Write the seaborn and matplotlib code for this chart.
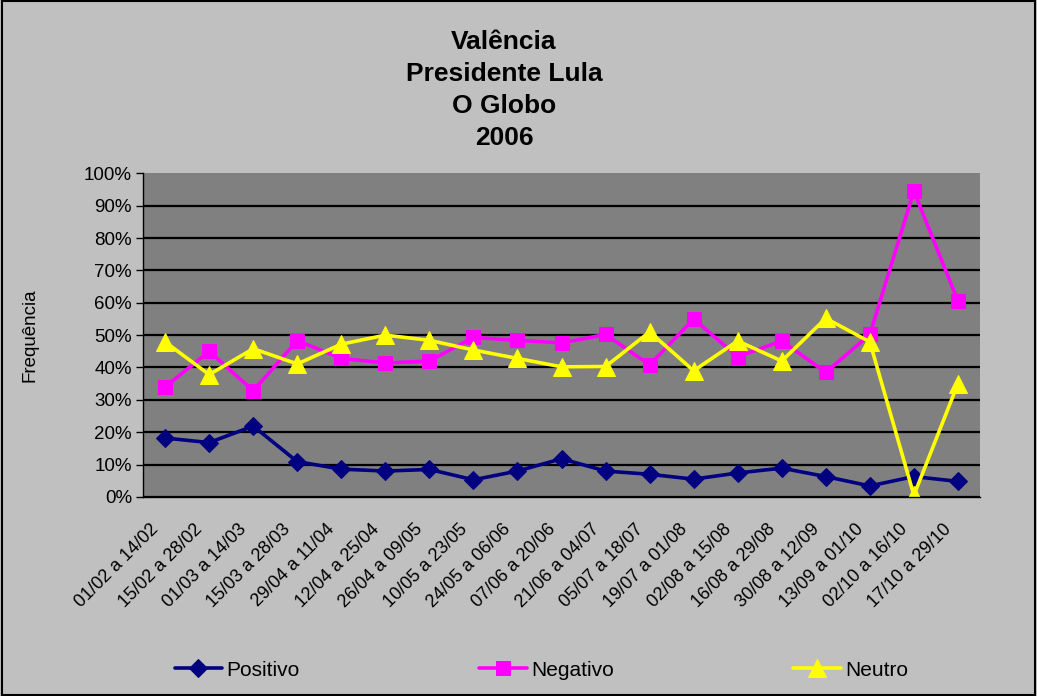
import pandas as pd
import numpy as np
import seaborn as sns
import matplotlib.pyplot as plt
from matplotlib.ticker import PercentFormatter, FixedLocator
from matplotlib.transforms import ScaledTranslation

# Data (percent)
periodos = ['01/02 a 14/02', '15/02 a 28/02', '01/03 a 14/03', '15/03 a 28/03',
            '29/04 a 11/04', '12/04 a 25/04', '26/04 a 09/05', '10/05 a 23/05',
            '24/05 a 06/06', '07/06 a 20/06', '21/06 a 04/07', '05/07 a 18/07',
            '19/07 a 01/08', '02/08 a 15/08', '16/08 a 29/08', '30/08 a 12/09',
            '13/09 a 01/10', '02/10 a 16/10', '17/10 a 29/10']
positivo = [18.2, 16.8, 21.9, 10.9, 8.6, 8.0, 8.5, 5.3, 8.0, 11.8,
            8.0, 7.0, 5.5, 7.4, 8.9, 6.3, 3.4, 6.3, 4.8]
negativo = [34.0, 45.0, 32.8, 48.3, 42.8, 41.4, 42.0, 49.3, 48.4, 47.6,
            50.2, 40.8, 55.0, 43.3, 48.2, 38.5, 50.2, 94.5, 60.5]
neutro = [47.9, 37.8, 45.8, 41.1, 47.2, 50.0, 48.4, 45.4, 42.8, 40.2,
          40.3, 51.0, 39.0, 48.2, 42.0, 55.2, 47.9, 0.5, 35.0]

df = pd.DataFrame({'periodo': periodos, 'Positivo': positivo,
                   'Negativo': negativo, 'Neutro': neutro})

sns.set_style('white')
plt.rcParams['font.family'] = ['Liberation Sans', 'DejaVu Sans']
for chave in ['text.color', 'axes.labelcolor', 'xtick.color', 'ytick.color']:
    plt.rcParams[chave] = 'black'

fig = plt.figure(figsize=(10.37, 6.96), dpi=100, facecolor='#c0c0c0')
ax = fig.add_axes([0.138, 0.286, 0.807, 0.465])
ax.set_facecolor('#808080')

estilos = [('Positivo', '#000080', 'D', 9.5),
           ('Negativo', '#ff00ff', 's', 10.5),
           ('Neutro', '#ffff00', '^', 13)]
for serie, cor, marc, tam in estilos:
    sns.lineplot(data=df, x='periodo', y=serie, ax=ax, color=cor, marker=marc,
                 markersize=tam, markeredgecolor=cor, linewidth=2.6,
                 sort=False, label=serie, legend=False)

ax.set_ylim(0, 100)
ax.set_xlim(-0.5, len(periodos) - 0.5)
ax.yaxis.set_major_formatter(PercentFormatter(decimals=0))
ax.set_yticks(np.arange(0, 101, 10))
ax.yaxis.grid(True, color='black', linewidth=1.6)
ax.get_ygridlines()[-1].set_visible(False)
ax.set_axisbelow(True)

ax.set_xticks(range(len(periodos)))
ax.set_xticklabels(periodos, rotation=45, ha='right', rotation_mode='anchor',
                   fontsize=13)
ax.tick_params(axis='x', length=0, pad=17)
desloca = ScaledTranslation(-15 / 100, 0, fig.dpi_scale_trans)
for rotulo in ax.get_xticklabels():
    rotulo.set_transform(rotulo.get_transform() + desloca)
ax.xaxis.set_minor_locator(FixedLocator(np.arange(-0.5, len(periodos), 1)))
ax.tick_params(axis='x', which='minor', length=5, color='black', width=1)
ax.tick_params(axis='y', length=5, color='black', width=1, labelsize=13.5,
               left=True, pad=3)

for lado in ['top', 'right']:
    ax.spines[lado].set_visible(False)
for lado in ['left', 'bottom']:
    ax.spines[lado].set_color('black')
    ax.spines[lado].set_linewidth(1)

ax.set_xlabel('')
ax.set_ylabel('Frequência', fontsize=13.5, labelpad=33)

fig.text(0.486, 0.957, 'Valência\nPresidente Lula\nO Globo\n2006',
         ha='center', va='top', fontsize=19, fontweight='bold', linespacing=1.42)

handles, labels = ax.get_legend_handles_labels()
fig.legend(handles, labels, loc='center', bbox_to_anchor=(0.522, 0.037), ncol=3,
           frameon=False, fontsize=15, handlelength=2.3, handletextpad=0.2,
           columnspacing=8.6)

borda = plt.Rectangle((0.002, 0.002), 0.996, 0.996, transform=fig.transFigure,
                      fill=False, edgecolor='black', linewidth=1.5)
fig.patches.append(borda)

fig.savefig('out.png', dpi=100, facecolor=fig.get_facecolor())
